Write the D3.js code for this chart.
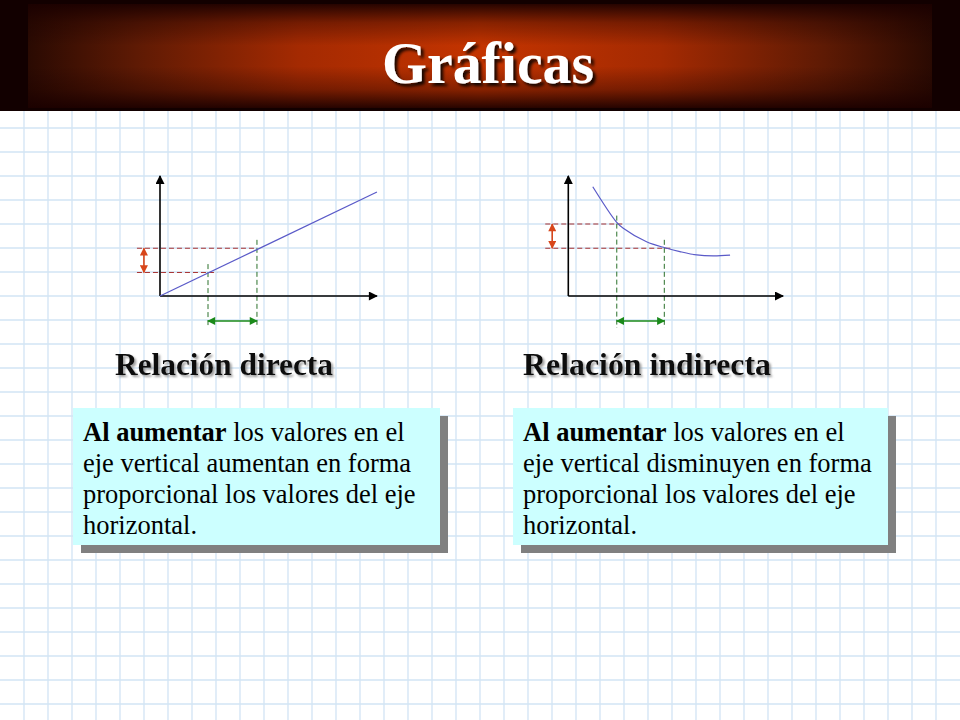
<!DOCTYPE html>
<html><head><meta charset="utf-8">
<script src="https://cdn.jsdelivr.net/npm/d3@7"></script>
<style>html,body{margin:0;padding:0;background:#fff;}svg{display:block;}</style>
</head><body>
<svg id="chart" width="960" height="720"></svg>
<script>
// ---- data ----
const title = "Gráficas";
const headings = ["Relación directa", "Relación indirecta"];
const boldLead = "Al aumentar";
const leftLines = [" los valores en el", "eje vertical aumentan en forma", "proporcional los valores del eje", "horizontal."];
const rightLines = [" los valores en el", "eje vertical disminuyen en forma", "proporcional los valores del eje", "horizontal."];
// direct relation line (grid units)
const directX = [0, 9.04];
const directY = [0, 4.33];
// inverse relation curve (grid units)
const inverseX = [1.02, 1.99, 2.29, 3.26, 4.03, 4.65, 5.35, 6.04, 6.74];
const inverseY = [4.55, 3.10, 2.82, 2.26, 2.01, 1.85, 1.71, 1.67, 1.70];
// marker points
const directMarkX = [2.0, 4.04];
const directMarkY = [0.98, 1.99];
const inverseMarkX = [2.02, 4.0];
const inverseMarkY = [3.0, 1.99];

const svg = d3.select("#chart");
const serif = "'Liberation Serif','Times New Roman',serif";
const defs = svg.append("defs");

// background grid
const gx = d3.range(24, 960, 24), gy = d3.range(128, 720, 24);
svg.append("g").selectAll("line.v").data(gx).join("line")
  .attr("x1", d => d).attr("x2", d => d).attr("y1", 111).attr("y2", 720)
  .attr("stroke", "#d2e4f4").attr("stroke-width", 1.3);
svg.append("g").selectAll("line.h").data(gy).join("line")
  .attr("x1", 0).attr("x2", 960).attr("y1", d => d).attr("y2", d => d)
  .attr("stroke", "#d2e4f4").attr("stroke-width", 1.3);

// title bar
const hg = defs.append("linearGradient").attr("id", "hg").attr("x1", 0).attr("x2", 1).attr("y1", 0).attr("y2", 0);
[[0, "#2a0a02"], [0.12, "#5e1a04"], [0.3, "#a42a02"], [0.5, "#c43400"], [0.7, "#a42a02"], [0.88, "#5e1a04"], [1, "#2a0a02"]]
  .forEach(([o, c]) => hg.append("stop").attr("offset", o).attr("stop-color", c));
const vg = defs.append("linearGradient").attr("id", "vg").attr("x1", 0).attr("x2", 0).attr("y1", 0).attr("y2", 1);
[[0, 0.92], [0.18, 0.35], [0.4, 0], [0.6, 0], [0.82, 0.35], [1, 0.92]]
  .forEach(([o, a]) => vg.append("stop").attr("offset", o).attr("stop-color", "#1a0000").attr("stop-opacity", a));
svg.append("rect").attr("x", 0).attr("y", 0).attr("width", 960).attr("height", 111).attr("fill", "#120000");
svg.append("rect").attr("x", 28).attr("y", 4).attr("width", 904).attr("height", 104).attr("fill", "url(#hg)");
svg.append("rect").attr("x", 28).attr("y", 4).attr("width", 904).attr("height", 104).attr("fill", "url(#vg)");

const ts = defs.append("filter").attr("id", "ts").attr("x", "-10%").attr("y", "-20%").attr("width", "130%").attr("height", "150%");
ts.append("feDropShadow").attr("dx", 3).attr("dy", 3).attr("stdDeviation", 1.6).attr("flood-color", "#000").attr("flood-opacity", 0.85);
svg.append("text").attr("x", 488).attr("y", 83).attr("text-anchor", "middle")
  .attr("font-family", serif).attr("font-weight", "bold").attr("font-size", 60)
  .attr("textLength", 212).attr("lengthAdjust", "spacingAndGlyphs")
  .attr("fill", "#ffffff").attr("filter", "url(#ts)").text(title);

// arrow markers
function marker(id, color, w, h) {
  const m = defs.append("marker").attr("id", id).attr("viewBox", "0 0 10 10").attr("refX", 9).attr("refY", 5)
    .attr("markerUnits", "userSpaceOnUse").attr("markerWidth", w).attr("markerHeight", h).attr("orient", "auto-start-reverse");
  m.append("path").attr("d", "M0,0L10,5L0,10Z").attr("fill", color);
}
marker("ax", "#000", 11, 9);
marker("ar", "#d8461a", 9, 8);
marker("ag", "#1a8a1a", 9, 8);

function panel(ox, xLen, lineX, lineY, curved, markX, markY) {
  const x = d3.scaleLinear().domain([0, 1]).range([ox, ox + 24]);
  const y = d3.scaleLinear().domain([0, 1]).range([296, 272]);
  const g = svg.append("g");
  // dashed guides
  const ext = [0.35, 0.35];
  markY.forEach((v, i) => {
    g.append("line").attr("x1", x(-0.96)).attr("x2", x(markX[i] + (curved ? ext[i] : (i === 0 ? 0.38 : 0))))
      .attr("y1", y(v)).attr("y2", y(v))
      .attr("stroke", "#a83232").attr("stroke-width", 1).attr("stroke-dasharray", "5,3");
  });
  markX.forEach((v, i) => {
    g.append("line").attr("x1", x(v)).attr("x2", x(v)).attr("y1", y(markY[i] + 0.35)).attr("y2", y(-1.33))
      .attr("stroke", "#2a702a").attr("stroke-width", 1).attr("stroke-dasharray", "5,3");
  });
  // axes
  g.append("line").attr("x1", x(0)).attr("x2", x(0)).attr("y1", y(0)).attr("y2", y(5))
    .attr("stroke", "#000").attr("stroke-width", 1.6).attr("marker-end", "url(#ax)");
  g.append("line").attr("x1", x(0)).attr("x2", x(xLen)).attr("y1", y(0)).attr("y2", y(0))
    .attr("stroke", "#000").attr("stroke-width", 1.6).attr("marker-end", "url(#ax)");
  // relation line
  const pts = lineX.map((v, i) => [v, lineY[i]]);
  g.append("path").attr("d", d3.line().x(d => x(d[0])).y(d => y(d[1])).curve(curved ? d3.curveCatmullRom : d3.curveLinear)(pts))
    .attr("fill", "none").attr("stroke", "#5a5ac8").attr("stroke-width", 1.2);
  // double arrows
  g.append("line").attr("x1", x(-0.67)).attr("x2", x(-0.67)).attr("y1", y(markY[0])).attr("y2", y(markY[1]))
    .attr("stroke", "#d8461a").attr("stroke-width", 1.6).attr("marker-start", "url(#ar)").attr("marker-end", "url(#ar)");
  g.append("line").attr("x1", x(markX[0])).attr("x2", x(markX[1])).attr("y1", y(-1.04)).attr("y2", y(-1.04))
    .attr("stroke", "#1a8a1a").attr("stroke-width", 1.6).attr("marker-start", "url(#ag)").attr("marker-end", "url(#ag)");
}
panel(160, 9.04, directX, directY, false, directMarkX, directMarkY);
panel(568.3, 8.95, inverseX, inverseY, true, inverseMarkX, inverseMarkY);

// headings
const hs = defs.append("filter").attr("id", "hs").attr("x", "-10%").attr("y", "-30%").attr("width", "130%").attr("height", "170%");
hs.append("feDropShadow").attr("dx", 2).attr("dy", 2).attr("stdDeviation", 1).attr("flood-color", "#888").attr("flood-opacity", 0.8);
[[115, headings[0], 218], [523, headings[1], 248]].forEach(([hx, t, w]) => {
  svg.append("text").attr("x", hx).attr("y", 375).attr("font-family", serif).attr("font-weight", "bold")
    .attr("font-size", 31).attr("textLength", w).attr("lengthAdjust", "spacingAndGlyphs")
    .attr("fill", "#111").attr("filter", "url(#hs)").text(t);
});

// text boxes
function box(bx, w, lines) {
  svg.append("rect").attr("x", bx + 8).attr("y", 416).attr("width", w).attr("height", 137).attr("fill", "#808080");
  svg.append("rect").attr("x", bx).attr("y", 408).attr("width", w).attr("height", 137).attr("fill", "#ccffff");
  const t = svg.append("text").attr("font-family", serif).attr("font-size", 26.5).attr("fill", "#000");
  lines.forEach((ln, i) => {
    const line = t.append("tspan").attr("x", bx + 10).attr("y", 441 + i * 31);
    if (i === 0) {
      line.append("tspan").attr("font-weight", "bold").text(boldLead);
      t.append("tspan").text(ln);
    } else {
      line.text(ln);
    }
  });
}
box(73, 367, leftLines);
box(513, 375, rightLines);
</script>
</body></html>
